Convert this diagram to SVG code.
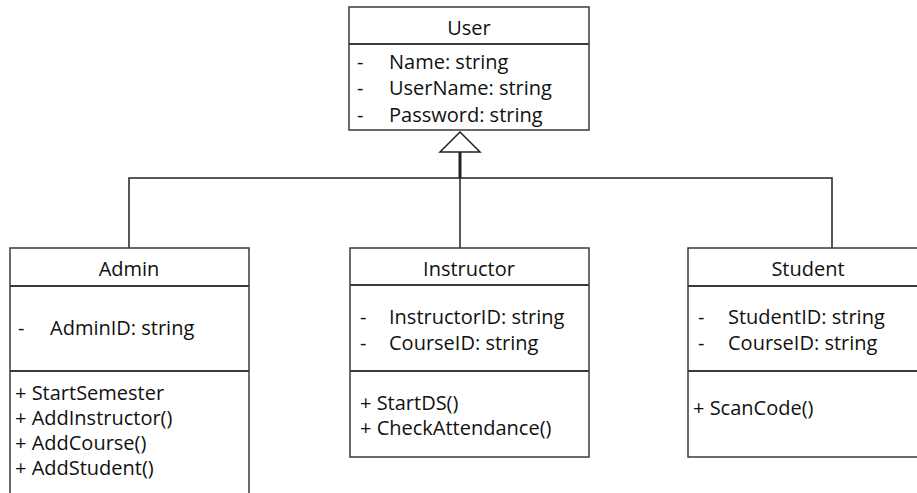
<svg xmlns="http://www.w3.org/2000/svg" width="917" height="493" viewBox="0 0 917 493">
<style>
  .box { fill: #ffffff; stroke: #3a3a3a; stroke-width: 1.5; }
  .sep { stroke: #3a3a3a; stroke-width: 2; }
  .ln { fill: none; stroke: #222222; stroke-width: 1.5; }
  text { font-family: "Open Sans", "Liberation Sans", sans-serif; font-size: 20px; fill: #111111; }
  .c { text-anchor: middle; }
</style>
<rect width="917" height="493" fill="#ffffff"/>
<g id="connectors">
  <polyline class="ln" points="129,248 129,178 832,178 832,248"/>
  <line class="ln" x1="460" y1="178" x2="460" y2="248"/>
  <line x1="460" y1="152" x2="460" y2="178" stroke="#222222" stroke-width="3"/>
  <polygon points="460,132 440,152 480,152" fill="#ffffff" stroke="#222222" stroke-width="1.5"/>
</g>
<g id="user">
  <rect class="box" x="349" y="7" width="240" height="123"/>
  <line class="sep" x1="349" y1="44" x2="589" y2="44"/>
  <text class="c" x="469" y="35">User</text>
  <text x="357" y="69">-</text><text x="389" y="69">Name: string</text>
  <text x="357" y="95">-</text><text x="389" y="95">UserName: string</text>
  <text x="357" y="122">-</text><text x="389" y="122">Password: string</text>
</g>
<g id="admin">
  <rect class="box" x="10" y="248" width="239" height="260"/>
  <line class="sep" x1="10" y1="286" x2="249" y2="286"/>
  <line class="sep" x1="10" y1="371" x2="249" y2="371"/>
  <text class="c" x="129" y="276">Admin</text>
  <text x="18" y="335">-</text><text x="50" y="335">AdminID: string</text>
  <text x="15" y="400">+ StartSemester</text>
  <text x="15" y="425">+ AddInstructor()</text>
  <text x="15" y="450">+ AddCourse()</text>
  <text x="15" y="475">+ AddStudent()</text>
</g>
<g id="instructor">
  <rect class="box" x="350" y="248" width="239" height="209"/>
  <line class="sep" x1="350" y1="285" x2="589" y2="285"/>
  <line class="sep" x1="350" y1="371" x2="589" y2="371"/>
  <text class="c" x="469" y="276">Instructor</text>
  <text x="360" y="324">-</text><text x="389" y="324">InstructorID: string</text>
  <text x="360" y="350">-</text><text x="389" y="350">CourseID: string</text>
  <text x="360" y="410">+ StartDS()</text>
  <text x="360" y="435">+ CheckAttendance()</text>
</g>
<g id="student">
  <rect class="box" x="688" y="248" width="240" height="209"/>
  <line class="sep" x1="688" y1="286" x2="928" y2="286"/>
  <line class="sep" x1="688" y1="371" x2="928" y2="371"/>
  <text class="c" x="808" y="276">Student</text>
  <text x="698" y="324">-</text><text x="728" y="324">StudentID: string</text>
  <text x="698" y="350">-</text><text x="728" y="350">CourseID: string</text>
  <text x="693" y="415">+ ScanCode()</text>
</g>
</svg>
